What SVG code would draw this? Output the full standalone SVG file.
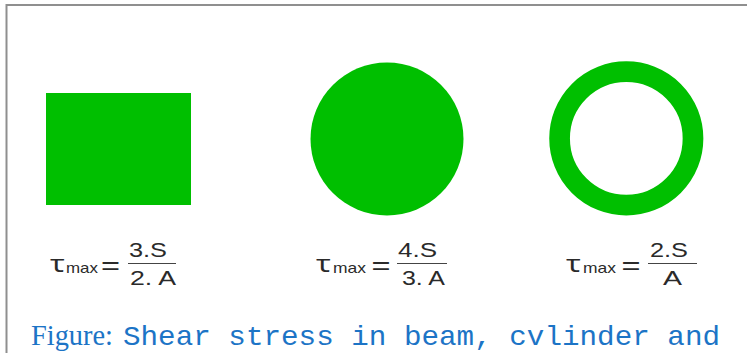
<svg xmlns="http://www.w3.org/2000/svg" width="747" height="353" viewBox="0 0 747 353">
<style>
.shape{fill:#00bf00}
.f{font-family:"Liberation Sans",Arial,sans-serif;fill:#2a2a2a}
.tau{font-family:"Noto Sans","Liberation Sans",sans-serif;font-size:23px}
.sub{font-size:15px}
.eq{font-size:26px}
.num{font-size:21px}
.bar{stroke:#444;stroke-width:1.1}
.cap1{font-family:"Liberation Serif","Times New Roman",serif;font-size:29px;fill:#1c74c6}
.cap2{font-family:"Liberation Mono","Courier New",monospace;font-size:28px;fill:#1c74c6}
</style>
<rect width="747" height="353" fill="#fff"/>
<path d="M6.5,353 V5 H747" fill="none" stroke="#8f8f8f" stroke-width="2"/>
<g id="beam">
<rect class="shape" x="46" y="93" width="145" height="112"/>
</g>
<g id="cylinder">
<circle class="shape" cx="387" cy="139" r="76.5"/>
</g>
<g id="tube">
<circle cx="626.3" cy="138.4" r="66.7" fill="none" stroke="#00bf00" stroke-width="20.7"/>
</g>
<g id="formula-beam" class="f">
<text class="tau" x="50" y="272" textLength="15" lengthAdjust="spacingAndGlyphs">τ</text>
<text class="sub" x="66" y="273" textLength="32" lengthAdjust="spacingAndGlyphs">max</text>
<text class="eq" x="101" y="273.5" textLength="19" lengthAdjust="spacingAndGlyphs">=</text>
<line class="bar" x1="128" y1="263.5" x2="176" y2="263.5"/>
<text class="num" x="129" y="257" textLength="38" lengthAdjust="spacingAndGlyphs">3.S</text>
<text class="num" x="130" y="285" textLength="46" lengthAdjust="spacingAndGlyphs">2. A</text>
</g>
<g id="formula-cylinder" class="f">
<text class="tau" x="316" y="272" textLength="15" lengthAdjust="spacingAndGlyphs">τ</text>
<text class="sub" x="333" y="273" textLength="33" lengthAdjust="spacingAndGlyphs">max</text>
<text class="eq" x="371.5" y="273.5" textLength="19" lengthAdjust="spacingAndGlyphs">=</text>
<line class="bar" x1="397" y1="263.5" x2="447" y2="263.5"/>
<text class="num" x="398" y="257" textLength="39" lengthAdjust="spacingAndGlyphs">4.S</text>
<text class="num" x="402" y="285" textLength="43" lengthAdjust="spacingAndGlyphs">3. A</text>
</g>
<g id="formula-tube" class="f">
<text class="tau" x="566" y="272" textLength="15" lengthAdjust="spacingAndGlyphs">τ</text>
<text class="sub" x="583" y="273" textLength="33" lengthAdjust="spacingAndGlyphs">max</text>
<text class="eq" x="621.5" y="273.5" textLength="19" lengthAdjust="spacingAndGlyphs">=</text>
<line class="bar" x1="648" y1="263.5" x2="697" y2="263.5"/>
<text class="num" x="650" y="257" textLength="38" lengthAdjust="spacingAndGlyphs">2.S</text>
<text class="num" x="663" y="285" textLength="19" lengthAdjust="spacingAndGlyphs">A</text>
</g>
<g id="caption">
<text class="cap1" x="31" y="345" textLength="82" lengthAdjust="spacingAndGlyphs">Figure:</text>
<text class="cap2" x="123" y="345" textLength="597" lengthAdjust="spacingAndGlyphs">Shear stress in beam, cvlinder and</text>
</g>
</svg>
